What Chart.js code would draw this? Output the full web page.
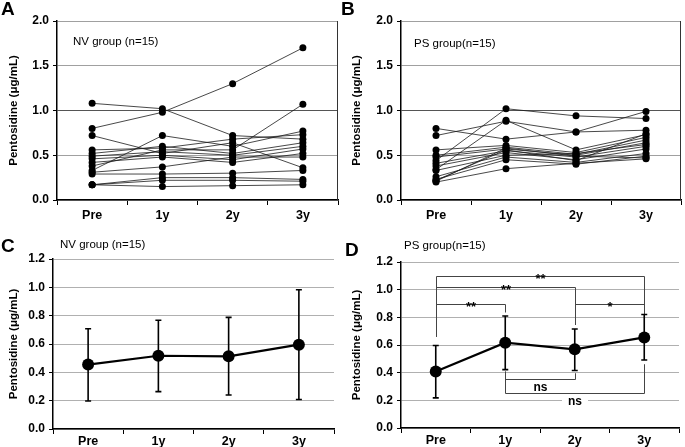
<!DOCTYPE html>
<html>
<head>
<meta charset="utf-8">
<script src="https://cdn.jsdelivr.net/npm/chart.js@4.4.1/dist/chart.umd.min.js"></script>
<style>
  body { margin: 0; background: #fff; width: 685px; height: 447px; position: relative; overflow: hidden;
         font-family: "Liberation Sans", Arial, sans-serif; color: #000; }
  .panel { position: absolute; }
  .letter { position: absolute; font-weight: bold; font-size: 19px; line-height: 1; }
  .grp { position: absolute; font-size: 11.5px; line-height: 1; white-space: nowrap; }
</style>
</head>
<body>
<div class="panel" style="left:0;top:0;width:342px;height:225px"><canvas id="chartA"></canvas></div>
<div class="panel" style="left:343px;top:0;width:342px;height:225px"><canvas id="chartB"></canvas></div>
<div class="panel" style="left:0;top:225px;width:340px;height:222px"><canvas id="chartC"></canvas></div>
<div class="panel" style="left:343px;top:225px;width:342px;height:222px"><canvas id="chartD"></canvas></div>

<div class="letter" style="left:1px;top:-1px">A</div>
<div class="letter" style="left:341px;top:-1px">B</div>
<div class="letter" style="left:1px;top:236px">C</div>
<div class="letter" style="left:345px;top:240px">D</div>
<div class="grp" style="left:73px;top:36px">NV group (n=15)</div>
<div class="grp" style="left:414px;top:38px">PS group(n=15)</div>
<div class="grp" style="left:60px;top:239px">NV group (n=15)</div>
<div class="grp" style="left:404px;top:240px">PS group(n=15)</div>

<script>
// --- DATA ---
const timepoints = ['Pre', '1y', '2y', '3y'];

// A: NV group, one row per subject (Pre, 1y, 2y, 3y)
const nvSubjects = [
  [0.80, 0.98, 1.30, 1.70],
  [1.08, 1.02, 0.72, 0.68],
  [0.72, 0.52, 0.64, 0.36],
  [0.33, 0.72, 0.60, 0.77],
  [0.38, 0.56, 0.56, 1.07],
  [0.56, 0.58, 0.68, 0.73],
  [0.52, 0.60, 0.52, 0.64],
  [0.49, 0.54, 0.50, 0.60],
  [0.46, 0.50, 0.45, 0.57],
  [0.42, 0.48, 0.42, 0.52],
  [0.31, 0.37, 0.48, 0.48],
  [0.29, 0.29, 0.30, 0.33],
  [0.17, 0.25, 0.25, 0.23],
  [0.17, 0.22, 0.22, 0.21],
  [0.17, 0.15, 0.16, 0.17]
];

// B: PS group, one row per subject
const psSubjects = [
  [0.44, 1.02, 0.94, 0.91],
  [0.72, 0.88, 0.76, 0.99],
  [0.80, 0.68, 0.76, 0.78],
  [0.34, 0.89, 0.56, 0.73],
  [0.56, 0.61, 0.53, 0.70],
  [0.50, 0.59, 0.51, 0.67],
  [0.48, 0.57, 0.50, 0.64],
  [0.41, 0.55, 0.48, 0.60],
  [0.38, 0.53, 0.45, 0.57],
  [0.33, 0.50, 0.52, 0.62],
  [0.26, 0.48, 0.42, 0.52],
  [0.23, 0.45, 0.40, 0.49],
  [0.21, 0.58, 0.49, 0.47],
  [0.20, 0.35, 0.41, 0.46],
  [0.22, 0.56, 0.44, 0.74]
];

// C: NV group mean with error range
const nvMean = [0.455, 0.517, 0.513, 0.595];
const nvLow  = [0.198, 0.264, 0.240, 0.208];
const nvHigh = [0.708, 0.768, 0.788, 0.983];

// D: PS group mean with error range
const psMean = [0.408, 0.617, 0.569, 0.655];
const psLow  = [0.218, 0.422, 0.416, 0.492];
const psHigh = [0.596, 0.810, 0.716, 0.820];

// D: significance brackets (category index a..b, bar level, leg ends)
const sigAbove = [
  { a: 0, b: 3, y: 1.10, text: '**', aEnd: 0.66, bEnd: 0.805 },
  { a: 0, b: 2, y: 1.02, text: '**', aEnd: 0.66, bEnd: 0.745 },
  { a: 0, b: 1, y: 0.895, text: '**', aEnd: 0.66, bEnd: 0.835 },
  { a: 2, b: 3, y: 0.895, text: '*', aEnd: 0.745, bEnd: 0.805 }
];
const sigBelow = [
  { a: 1, b: 2, y: 0.355, text: 'ns', aEnd: 0.408, bEnd: 0.396 },
  { a: 1, b: 3, y: 0.252, text: 'ns', aEnd: 0.408, bEnd: 0.461 }
];

// --- HELPERS ---
const FONT = '"Liberation Sans", Arial, sans-serif';
Chart.defaults.font.family = FONT;
Chart.defaults.color = '#000';

const rightBorder = {
  id: 'rightBorder',
  afterDraw(chart) {
    const { ctx, chartArea: a } = chart;
    ctx.save();
    ctx.strokeStyle = '#333';
    ctx.lineWidth = 1;
    ctx.beginPath();
    ctx.moveTo(a.right - 0.5, a.top);
    ctx.lineTo(a.right - 0.5, a.bottom);
    ctx.stroke();
    ctx.restore();
  }
};

function errorBars(low, high) {
  return {
    id: 'errorBars',
    beforeDatasetsDraw(chart) {
      const { ctx, scales: { x, y } } = chart;
      ctx.save();
      ctx.strokeStyle = '#000';
      ctx.lineWidth = 1.6;
      low.forEach((lo, i) => {
        const px = x.getPixelForValue(i);
        const y1 = y.getPixelForValue(lo), y2 = y.getPixelForValue(high[i]);
        ctx.beginPath();
        ctx.moveTo(px, y1); ctx.lineTo(px, y2);
        ctx.moveTo(px - 3, y1); ctx.lineTo(px + 3, y1);
        ctx.moveTo(px - 3, y2); ctx.lineTo(px + 3, y2);
        ctx.stroke();
      });
      ctx.restore();
    }
  };
}

const brackets = {
  id: 'brackets',
  beforeDatasetsDraw(chart) {
    const { ctx, scales: { x, y } } = chart;
    ctx.save();
    ctx.strokeStyle = '#444';
    ctx.lineWidth = 1;
    const drawOne = (s, above) => {
      const xa = Math.round(x.getPixelForValue(s.a)) + 0.5;
      const xb = Math.round(x.getPixelForValue(s.b)) + 0.5;
      const yy = Math.round(y.getPixelForValue(s.y)) + 0.5;
      ctx.beginPath();
      ctx.moveTo(xa, y.getPixelForValue(s.aEnd));
      ctx.lineTo(xa, yy);
      ctx.lineTo(xb, yy);
      ctx.lineTo(xb, y.getPixelForValue(s.bEnd));
      ctx.stroke();
      const cx = (xa + xb) / 2;
      ctx.fillStyle = '#000';
      ctx.textAlign = 'center';
      if (above) {
        ctx.font = 'bold 13px ' + FONT;
        ctx.textBaseline = 'alphabetic';
        ctx.fillText(s.text, cx, yy + 6);
      } else {
        ctx.font = 'bold 12px ' + FONT;
        const w = ctx.measureText(s.text).width;
        ctx.fillStyle = '#fff';
        ctx.fillRect(cx - w / 2 - 6, yy + 2, w + 12, 13);
        ctx.fillStyle = '#000';
        ctx.textBaseline = 'middle';
        ctx.fillText(s.text, cx, yy + 8);
      }
    };
    sigAbove.forEach(s => drawOne(s, true));
    sigBelow.forEach(s => drawOne(s, false));
    ctx.restore();
  }
};

function spaghettiConfig(rows, yWidth) {
  return {
    type: 'line',
    data: {
      labels: timepoints,
      datasets: rows.map(r => ({
        data: r,
        borderColor: '#1a1a1a',
        borderWidth: 0.8,
        pointRadius: 3.5,
        pointBackgroundColor: '#000',
        pointBorderWidth: 0,
        tension: 0,
        fill: false
      }))
    },
    options: {
      responsive: true,
      maintainAspectRatio: false,
      animation: false,
      layout: { padding: { top: 21, right: 2, left: 0, bottom: 0 } },
      plugins: { legend: { display: false }, tooltip: { enabled: false } },
      scales: {
        x: {
          offset: true,
          grid: { offset: true, drawOnChartArea: false, drawTicks: true, tickLength: 5, tickColor: '#000' },
          border: { color: '#000', width: 1.5 },
          ticks: { font: { weight: 'bold', size: 12.5 }, color: '#000', padding: 3 },
          afterFit: s => { s.height = 25; }
        },
        y: {
          min: 0, max: 2,
          ticks: { stepSize: 0.5, callback: v => v.toFixed(1), font: { weight: 'bold', size: 12 }, color: '#000', padding: 4 },
          grid: {
            color: c => c.tick.value === 1 ? '#555' : '#a0a0a0',
            lineWidth: 1, tickLength: 4, tickColor: '#000'
          },
          border: { color: '#000', width: 1.5 },
          title: { display: true, text: 'Pentosidine (μg/mL)', font: { weight: 'bold', size: 11.5 }, color: '#000', padding: { top: 7, bottom: 0 } },
          afterFit: s => { s.width = yWidth; }
        }
      }
    },
    plugins: [rightBorder]
  };
}

function meanConfig(mean, yWidth, topPad, rightPad, xHeight) {
  return {
    type: 'line',
    data: {
      labels: timepoints,
      datasets: [{
        data: mean,
        borderColor: '#000',
        borderWidth: 2.2,
        pointRadius: 6,
        pointBackgroundColor: '#000',
        pointBorderWidth: 0,
        tension: 0,
        fill: false
      }]
    },
    options: {
      responsive: true,
      maintainAspectRatio: false,
      animation: false,
      layout: { padding: { top: topPad, right: rightPad, left: 0, bottom: 0 } },
      plugins: { legend: { display: false }, tooltip: { enabled: false } },
      scales: {
        x: {
          offset: true,
          grid: { offset: true, drawOnChartArea: false, drawTicks: true, tickLength: 5, tickColor: '#000' },
          border: { color: '#000', width: 1.5 },
          ticks: { font: { weight: 'bold', size: 12.5 }, color: '#000', padding: 0 },
          afterFit: s => { s.height = xHeight; }
        },
        y: {
          min: 0, max: 1.2,
          ticks: { stepSize: 0.2, callback: v => v.toFixed(1), font: { weight: 'bold', size: 12 }, color: '#000', padding: 4 },
          grid: { color: '#b0b0b0', lineWidth: 1, tickLength: 4, tickColor: '#000' },
          border: { color: '#000', width: 1.5 },
          title: { display: true, text: 'Pentosidine (μg/mL)', font: { weight: 'bold', size: 11.5 }, color: '#000', padding: { top: 7, bottom: 0 } },
          afterFit: s => { s.width = yWidth; }
        }
      }
    }
  };
}

// --- CHARTS ---
new Chart(document.getElementById('chartA'), spaghettiConfig(nvSubjects, 57));
new Chart(document.getElementById('chartB'), spaghettiConfig(psSubjects, 58));

const cfgC = meanConfig(nvMean, 53, 34, 2, 18);
cfgC.plugins = [errorBars(nvLow, nvHigh)];
new Chart(document.getElementById('chartC'), cfgC);

const cfgD = meanConfig(psMean, 58, 37, 1, 19);
cfgD.plugins = [brackets, errorBars(psLow, psHigh)];
new Chart(document.getElementById('chartD'), cfgD);
</script>
</body>
</html>
